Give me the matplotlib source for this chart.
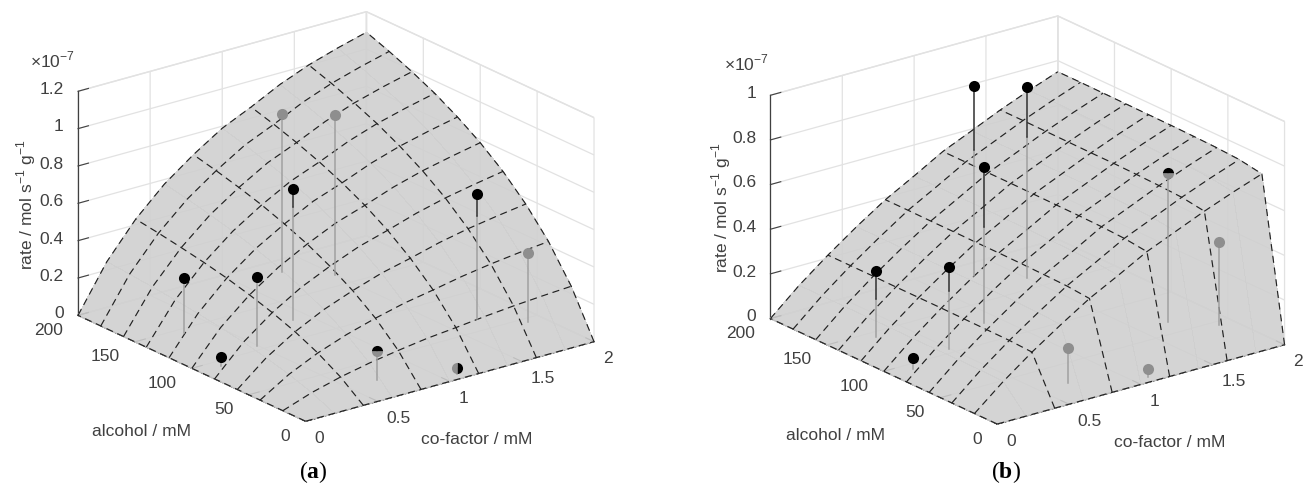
import numpy as np
import matplotlib
matplotlib.use("Agg")
import matplotlib.pyplot as plt
from matplotlib.transforms import ScaledTranslation

plt.rcParams['font.family'] = ['Liberation Sans', 'DejaVu Sans']
plt.rcParams['mathtext.fontset'] = 'custom'
plt.rcParams['mathtext.rm'] = 'Liberation Sans'
plt.rcParams['mathtext.bf'] = 'Liberation Serif:bold'

# grid of the fitted surfaces
cofactor = [0, 0.2, 0.4, 0.6, 0.8, 1.0, 1.2, 1.4, 1.6, 1.8, 2.0]
alcohol = [0, 20, 40, 60, 80, 100, 120, 140, 160, 180, 200]

# rows follow alcohol, columns follow cofactor, units of 1e-7
rate_a = [[0, 0, 0, 0, 0, 0, 0, 0, 0, 0, 0],
          [0, .054, .095, .127, .152, .174, .189, .206, .220, .231, .240],
          [0, .095, .167, .223, .268, .306, .334, .364, .388, .407, .423],
          [0, .127, .224, .300, .359, .410, .447, .488, .520, .545, .567],
          [0, .154, .270, .362, .433, .495, .540, .589, .628, .658, .685],
          [0, .176, .308, .413, .495, .566, .617, .673, .717, .751, .782],
          [0, .194, .341, .456, .546, .625, .681, .743, .792, .830, .863],
          [0, .210, .368, .493, .591, .675, .736, .803, .856, .897, .933],
          [0, .223, .391, .524, .628, .718, .783, .854, .910, .954, .992],
          [0, .235, .412, .552, .661, .756, .824, .899, .958, 1.004, 1.044],
          [0, .245, .430, .576, .690, .789, .860, .938, 1.000, 1.048, 1.090]]
rate_b = [[0, 0, 0, 0, 0, 0, 0, 0, 0, 0, 0],
          [0, .108, .204, .291, .373, .441, .512, .567, .622, .672, .718],
          [0, .111, .209, .298, .382, .452, .524, .580, .637, .688, .735],
          [0, .112, .210, .301, .385, .455, .529, .585, .642, .694, .741],
          [0, .112, .211, .302, .387, .457, .531, .587, .645, .696, .744],
          [0, .112, .212, .303, .388, .459, .532, .589, .647, .698, .746],
          [0, .113, .212, .303, .388, .459, .533, .590, .647, .699, .747],
          [0, .113, .212, .304, .389, .460, .534, .591, .648, .701, .748],
          [0, .113, .213, .304, .389, .461, .534, .591, .649, .701, .749],
          [0, .113, .213, .304, .390, .461, .535, .592, .650, .702, .750],
          [0, .113, .213, .305, .390, .461, .535, .592, .650, .702, .750]]

# measured points, same in both panels
point_cof = [.29, .15, .49, 1.29, .89, 1.50, .70, 1.10, 1.70, 1.90]
point_alc = [144, 93, 105, 184, 124, 164, 26, 6, 65, 45]
point_rate = [.295, .05, .37, .85, .70, .855, .155, .035, .67, .37]

# height where each stem goes through the surface
cross_a = [.295, .05, .37, .85, .606, .855, .155, .035, .555, .37]
cross_b = [.17, .05, .262, .565, .43, .63, .155, .035, .67, .37]

# b = above surface, g = below, t/r = half covered
state_a = ['b', 'b', 'b', 'g', 'b', 'g', 't', 'r', 'b', 'g']
state_b = ['b', 'b', 'b', 'b', 'b', 'b', 'g', 'g', 't', 'g']

cof_ticks = [0, 0.5, 1, 1.5, 2]
cof_labels = ['0', '0.5', '1', '1.5', '2']
alc_ticks = [0, 50, 100, 150, 200]
alc_labels = ['0', '50', '100', '150', '200']
rate_ticks_a = [0, 0.2, 0.4, 0.6, 0.8, 1, 1.2]
rate_labels_a = ['0', '0.2', '0.4', '0.6', '0.8', '1', '1.2']
rate_ticks_b = [0, 0.2, 0.4, 0.6, 0.8, 1]
rate_labels_b = ['0', '0.2', '0.4', '0.6', '0.8', '1']

W, H = 1303, 486
TXT = '#404040'
GRAY = '#8e8e8e'

fig = plt.figure(figsize=(W / 100, H / 100), dpi=100)


def nudge(ax, axis, dx, dy, ha):
    # Axis3D resets the label transform in get_major_ticks, so wrap that call
    shift = ax.transData + ScaledTranslation(dx / 100, dy / 100, fig.dpi_scale_trans)
    orig = axis.get_major_ticks

    def get_major_ticks(numticks=None):
        ticks = orig(numticks)
        for t in ticks:
            t.label1.set_transform(shift)
            t.label1.set_ha(ha)
        return ticks
    axis.get_major_ticks = get_major_ticks


def draw_panel(left, bottom, size, rate, cross, state, zticks, zlabels):
    ax = fig.add_axes([left / W, bottom / H, size / W, size / H],
                      projection='3d', computed_zorder=False, proj_type='ortho')
    ax.patch.set_alpha(0)
    ax.view_init(elev=21, azim=232.4)
    ax.set_box_aspect((364, 373, 240))
    ax.set_xlim(0, 2)
    ax.set_ylim(0, 200)
    ax.set_zlim(0, zticks[-1])
    ax.set_xticks(cof_ticks, cof_labels)
    ax.set_yticks(alc_ticks, alc_labels)
    ax.set_zticks(zticks, zlabels)
    ax.tick_params(labelsize=12.5, labelcolor=TXT, color=TXT, pad=1)

    for axis in (ax.xaxis, ax.yaxis, ax.zaxis):
        axis.set_pane_color((1, 1, 1, 1))
        axis.pane.set_edgecolor('#e2e2e2')
        axis.line.set_color(TXT)
        axis.line.set_linewidth(0.9)
        axis._axinfo['grid']['color'] = '#e2e2e2'
        axis._axinfo['grid']['linewidth'] = 0.9
        axis._axinfo['tick']['inward_factor'] = 0.0
        axis._axinfo['tick']['outward_factor'] = 0.45

    nudge(ax, ax.xaxis, -1, 4.5, 'left')
    nudge(ax, ax.yaxis, -3, 5.5, 'right')
    nudge(ax, ax.zaxis, 8, 8, 'right')

    X, Y = np.meshgrid(cofactor, alcohol)
    Z = np.array(rate)
    ax.plot_surface(X, Y, Z, rstride=1, cstride=1, color='#cfcfcf', shade=False,
                    alpha=0.88, linewidth=0, antialiased=False, zorder=2)

    # dashed mesh, cofactor lines only on every second column
    for i in range(len(alcohol)):
        ax.plot(cofactor, [alcohol[i]] * len(cofactor), Z[i, :], color='#222222',
                lw=0.85, dashes=(6, 4), zorder=3)
    for j in range(0, len(cofactor), 2):
        ax.plot([cofactor[j]] * len(alcohol), alcohol, Z[:, j], color='#222222',
                lw=0.85, dashes=(6, 4), zorder=3)

    # stems and markers
    for k in range(len(point_cof)):
        xs = [point_cof[k], point_cof[k]]
        ys = [point_alc[k], point_alc[k]]
        low = min(cross[k], point_rate[k])
        ax.plot(xs, ys, [0, low], color='#a0a0a0', lw=1.1, zorder=4)
        if cross[k] < point_rate[k]:
            ax.plot(xs, ys, [low, point_rate[k]], color='#303030', lw=1.1, zorder=4)
        opts = dict(marker='o', ms=8, mew=0, zorder=5, linestyle='none')
        if state[k] == 'b':
            opts['color'] = 'black'
        elif state[k] == 'g':
            opts['color'] = GRAY
        else:
            opts['color'] = 'black'
            opts['markerfacecoloralt'] = GRAY
            opts['fillstyle'] = 'top' if state[k] == 't' else 'right'
        ax.plot([point_cof[k]], [point_alc[k]], [point_rate[k]], **opts)
    return ax


def put(x, y, s, **kw):
    kw.setdefault('color', TXT)
    kw.setdefault('fontsize', 12.5)
    fig.text(x / W, 1 - y / H, s, ha='center', va='center', **kw)


draw_panel(50, -16.5, 557, rate_a, cross_a, state_a, rate_ticks_a, rate_labels_a)
draw_panel(742.5, -19, 555, rate_b, cross_b, state_b, rate_ticks_b, rate_labels_b)

ylab = r'rate / mol s$^{\mathregular{-1}}$ g$^{\mathregular{-1}}$'
put(26, 205, ylab, rotation=90)
put(721, 208, ylab, rotation=90)
put(52, 60, r'$\times$10$^{\mathregular{-7}}$')
put(746, 63, r'$\times$10$^{\mathregular{-7}}$')
put(141, 432, 'alcohol / mM')
put(835, 435, 'alcohol / mM')
put(477, 439, 'co-factor / mM')
put(1170, 442, 'co-factor / mM')
put(313, 472, r'($\mathbf{a}$)', color='black', fontsize=17, family='Liberation Serif')
put(1006, 472, r'($\mathbf{b}$)', color='black', fontsize=17, family='Liberation Serif')

fig.savefig('out.png', dpi=100)
